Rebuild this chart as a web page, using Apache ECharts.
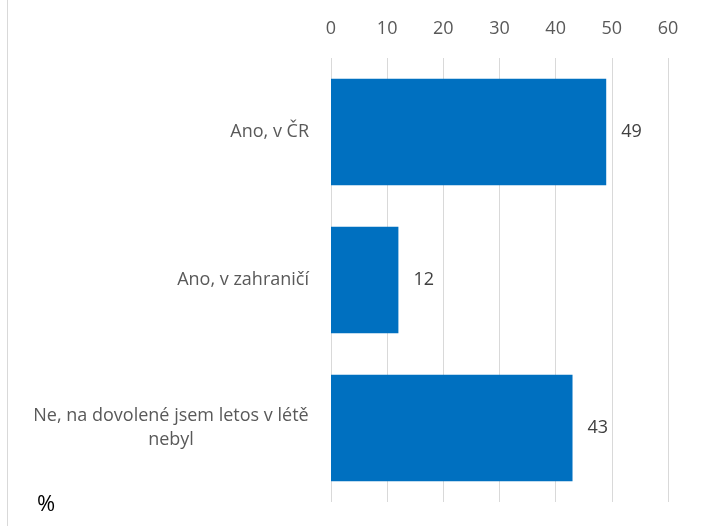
<!DOCTYPE html>
<html>
<head>
<meta charset="utf-8">
<script src="https://cdn.jsdelivr.net/npm/echarts@6/dist/echarts.min.js"></script>
<style>
  html, body { margin: 0; padding: 0; background: #fff; }
  #chart { width: 710px; height: 526px; }
</style>
</head>
<body>
<div id="chart"></div>
<script>
const categories = ['Ano, v ČR', 'Ano, v zahraničí', 'Ne, na dovolené jsem letos v létě nebyl'];
const values = [49, 12, 43];
const axisTicks = [0, 10, 20, 30, 40, 50, 60];
const unitLabel = '%';

const FONT = '"Open Sans", "Noto Sans", sans-serif';
const LABEL_SIZE = 18;
const WRAP_WIDTH = 295;

// wrap long category names word by word, lines centered to each other like in Excel
const ctx = document.createElement('canvas').getContext('2d');
ctx.font = LABEL_SIZE + 'px ' + FONT;
function wrap(text) {
  const words = text.split(' ');
  const lines = [];
  let cur = '';
  words.forEach(w => {
    const t = cur ? cur + ' ' + w : w;
    if (ctx.measureText(t).width > WRAP_WIDTH && cur) {
      lines.push(cur);
      cur = w;
    } else {
      cur = t;
    }
  });
  lines.push(cur);
  return lines;
}
let blockWidth = 0;
categories.forEach(c => {
  const lines = wrap(c);
  if (lines.length > 1) {
    lines.forEach(l => { blockWidth = Math.max(blockWidth, Math.ceil(ctx.measureText(l).width)); });
  }
});

const chart = echarts.init(document.getElementById('chart'));
chart.setOption({
  animation: false,
  grid: { left: 331, right: 42, top: 58, bottom: 24 },
  xAxis: {
    type: 'value',
    position: 'top',
    min: axisTicks[0],
    max: axisTicks[axisTicks.length - 1],
    interval: 10,
    axisLine: { show: false },
    axisTick: { show: false },
    axisLabel: { color: '#595959', fontSize: 18, fontFamily: FONT, margin: 20 },
    splitLine: { lineStyle: { color: '#d9d9d9', width: 1 } }
  },
  yAxis: {
    type: 'category',
    inverse: true,
    data: categories,
    axisLine: { show: false },
    axisTick: { show: false },
    axisLabel: {
      color: '#595959',
      fontSize: LABEL_SIZE,
      fontFamily: FONT,
      margin: 22,
      lineHeight: 24,
      formatter: v => {
        const lines = wrap(v);
        if (lines.length === 1) return v;
        return lines.map(l => '{c|' + l + '}').join('\n');
      },
      rich: {
        c: { width: blockWidth, align: 'center', color: '#595959', fontSize: LABEL_SIZE, fontFamily: FONT, lineHeight: 24 }
      }
    }
  },
  series: [{
    type: 'bar',
    data: values,
    barCategoryGap: '28%',
    itemStyle: { color: '#0070C0' },
    label: {
      show: true,
      position: 'right',
      distance: 15,
      color: '#404040',
      fontSize: 18,
      fontFamily: FONT
    }
  }],
  graphic: [
    { type: 'line', shape: { x1: 7.5, y1: 0, x2: 7.5, y2: 526 }, style: { stroke: '#d9d9d9', lineWidth: 1 } },
    { type: 'text', left: 37, top: 494, style: { text: unitLabel, fontSize: 22, fontFamily: FONT, fill: '#000' } }
  ]
});
</script>
</body>
</html>
